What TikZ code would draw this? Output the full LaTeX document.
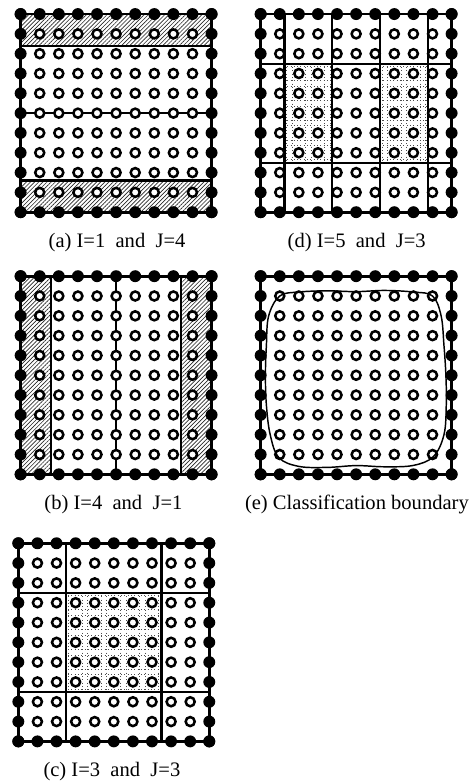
\documentclass[tikz,border=0pt]{standalone}
\usepackage{fontspec}
\setmainfont{Liberation Serif}
\usetikzlibrary{patterns.meta}

\tikzset{
  frame/.style={line width=2pt},
  split/.style={line width=1.6pt},
  opendot/.style={draw, fill=white, line width=1.9pt},
  hatch/.style={pattern={Lines[angle=45,distance=2.2pt,line width=0.5pt]}, pattern color=black!85},
  stip/.style={line width=0.7pt, black!70, dash pattern=on 0.7pt off 1.8pt},
  bound/.style={line width=1.1pt},
  caption/.style={font=\fontsize{15.5}{18}\selectfont},
}

% 11 x 11 lattice: filled points on the frame, open points inside
\newcommand{\lattice}{%
  \draw[frame] (0,0) rectangle (10,10);
  \foreach \i in {0,...,10} {
    \fill (\i,0) circle (4.5pt);
    \fill (\i,10) circle (4.5pt);
    \fill (0,\i) circle (4.5pt);
    \fill (10,\i) circle (4.5pt);
  }
  \foreach \i in {1,...,9}
    \foreach \j in {1,...,9}
      \draw[opendot] (\i,\j) circle (3.4pt);
}

% dotted stipple inside a box
\newcommand{\stipplebox}[4]{%
  \begin{scope}
    \clip (#1,#2) rectangle (#3,#4);
    \foreach \k in {0,...,9} {
      \draw[stip] (\k+0.36,0) -- (\k+0.36,10);
      \draw[stip] (\k+0.64,0) -- (\k+0.64,10);
      \draw[stip] (0,\k+0.36) -- (10,\k+0.36);
      \draw[stip] (0,\k+0.64) -- (10,\k+0.64);
    }
  \end{scope}
}

\begin{document}
\begin{tikzpicture}[x=0.506cm, y=-0.525cm]
  \useasboundingbox (0,0) rectangle (24.72,39.47);

  % (a) I=1 and J=4
  \begin{scope}[shift={(1.08,0.71)}]
    \fill[hatch] (0,0) rectangle (10,1.6);
    \fill[hatch] (0,8.4) rectangle (10,10);
    \draw[split] (0,1.6) -- (10,1.6);
    \draw[split] (0,5) -- (10,5);
    \draw[split] (0,8.4) -- (10,8.4);
    \lattice
  \end{scope}
  \node[caption] (capa) at (6.13,12.22) {(a) I=1~~and~~J=4};

  % (d) I=5 and J=3
  \begin{scope}[shift={(13.65,0.71)}]
    \stipplebox{1.25}{2.5}{3.75}{7.5}
    \stipplebox{6.25}{2.5}{8.75}{7.5}
    \foreach \x in {1.25,3.75,6.25,8.75}
      \draw[split] (\x,0) -- (\x,10);
    \draw[split] (0,2.5) -- (10,2.5);
    \draw[split] (0,7.5) -- (10,7.5);
    \lattice
  \end{scope}
  \node[caption] (capd) at (18.68,12.22) {(d) I=5~~and~~J=3};

  % (b) I=4 and J=1
  \begin{scope}[shift={(1.08,13.94)}]
    \fill[hatch] (0,0) rectangle (1.6,10);
    \fill[hatch] (8.4,0) rectangle (10,10);
    \draw[split] (1.6,0) -- (1.6,10);
    \draw[split] (5,0) -- (5,10);
    \draw[split] (8.4,0) -- (8.4,10);
    \lattice
  \end{scope}
  \node[caption] (capb) at (5.94,25.45) {(b) I=4~~and~~J=1};

  % (e) Classification boundary
  \begin{scope}[shift={(13.65,13.94)}]
    \lattice
    \draw[bound] plot[smooth cycle, tension=0.6] coordinates {
      (1,1) (2,0.8) (3.5,0.74) (5,0.78) (6.5,0.72) (8,0.8) (9,1)
      (9.45,2) (9.6,3.5) (9.7,5) (9.72,6.5) (9.6,8) (9.05,9.1)
      (8,9.55) (6.5,9.62) (5,9.56) (3.5,9.65) (2,9.6) (0.95,9.15)
      (0.5,8) (0.3,6.5) (0.25,5) (0.3,3.5) (0.42,2)};
  \end{scope}
  \node[caption] (cape) at (18.69,25.45) {(e) Classification boundary};

  % (c) I=3 and J=3
  \begin{scope}[shift={(0.96,27.42)}]
    \stipplebox{2.5}{2.5}{7.5}{7.5}
    \draw[split] (2.5,0) -- (2.5,10);
    \draw[split] (7.5,0) -- (7.5,10);
    \draw[split] (0,2.5) -- (10,2.5);
    \draw[split] (0,7.5) -- (10,7.5);
    \lattice
  \end{scope}
  \node[caption] (capc) at (5.86,38.94) {(c) I=3~~and~~J=3};
\end{tikzpicture}
\end{document}
